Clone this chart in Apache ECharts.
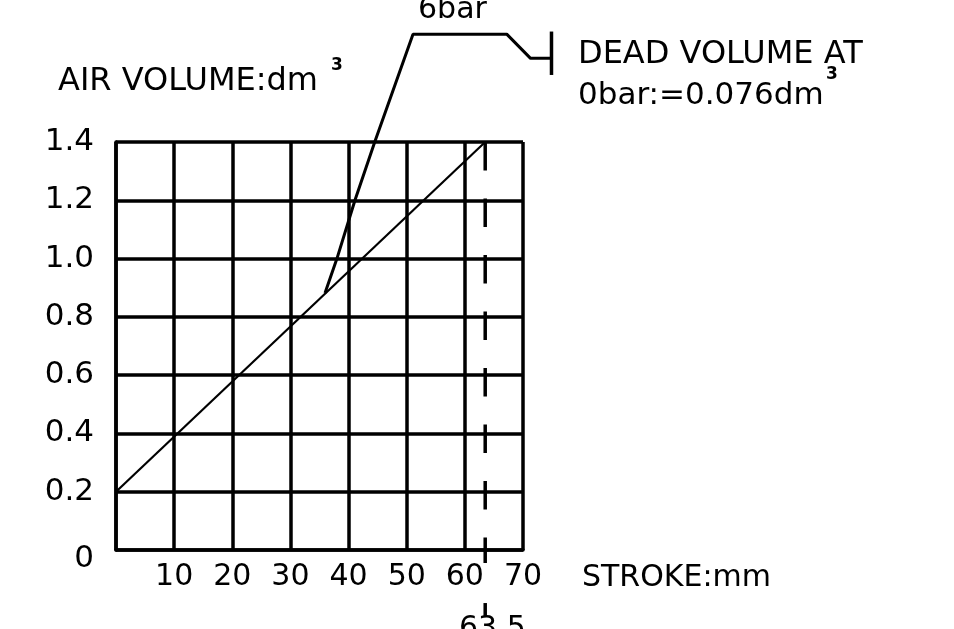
<!DOCTYPE html>
<html>
<head>
<meta charset="utf-8">
<title>Air volume vs stroke</title>
<script src="https://cdn.jsdelivr.net/npm/echarts@6/dist/echarts.min.js"></script>
<style>
    html, body { margin: 0; padding: 0; background: #fff; }
    #main { width: 954px; height: 629px; }
</style>
</head>
<body>
<div id="main"></div>
<script>
// stroke (mm) / air volume (dm3)
var strokeRange = [0, 70];
var volumeRange = [0, 1.4];

// volume line at 0 bar, from the dead volume to full stroke
var volumeLine = [[0, 0.2], [63.5, 1.4]];
// 6 bar leader line going up to the note
var leader6bar = [[35.95, 0.882], [38.0, 1.0], [41.1, 1.2], [44.5, 1.4], [51.08, 1.77], [67.2, 1.77], [71.3, 1.687], [74.9, 1.687]];
var leaderTick = [[74.9, 1.779], [74.9, 1.63]];
// full stroke mark 63.5 mm
var fullStroke = 63.5;
var strokeMark = [[fullStroke, 1.4], [fullStroke, -0.045]];
var strokeMarkLow = [[fullStroke, -0.182], [fullStroke, -0.23]];

var FONT = '"DejaVu Sans"';
var PX_PER_MM = 407 / 70;

var myChart = echarts.init(document.getElementById('main'));

// annotations live on a second, hidden grid with the same scale but a wider x range
function lineSeries(data, width, dash, onNotes) {
    return {
        type: 'line',
        data: data,
        xAxisIndex: onNotes ? 1 : 0,
        yAxisIndex: onNotes ? 1 : 0,
        symbol: 'none',
        clip: false,
        silent: true,
        lineStyle: {color: '#000', width: width, type: dash || 'solid', cap: 'butt'},
        z: 3
    };
}

var option = {
    animation: false,
    backgroundColor: '#fff',
    grid: [
        {left: 116, top: 142, width: 407, height: 408},
        {left: 116, top: 142, width: 90 * PX_PER_MM, height: 408}
    ],
    xAxis: [{
        type: 'value',
        min: strokeRange[0],
        max: strokeRange[1],
        interval: 10,
        name: 'STROKE:mm',
        nameLocation: 'end',
        nameGap: 59,
        nameTextStyle: {
            color: '#000', fontFamily: FONT, fontSize: 30,
            align: 'left', verticalAlign: 'top', padding: [13, 0, 0, 0]
        },
        axisLine: {show: true, lineStyle: {color: '#000', width: 3.5}},
        axisTick: {show: false},
        axisLabel: {
            color: '#000', fontFamily: FONT, fontSize: 30, margin: 12,
            formatter: function (v) { return v === 0 ? '' : String(v); }
        },
        splitLine: {show: true, lineStyle: {color: '#000', width: 3.5}}
    }, {
        type: 'value', gridIndex: 1, min: 0, max: 90, show: false
    }],
    yAxis: [{
        type: 'value',
        min: volumeRange[0],
        max: volumeRange[1],
        interval: 0.2,
        axisLine: {show: true, lineStyle: {color: '#000', width: 3.5}},
        axisTick: {show: false},
        axisLabel: {
            color: '#000', fontFamily: FONT, fontSize: 31, margin: 22,
            formatter: function (v) { return v === 0 ? '{z|0}' : v.toFixed(1); },
            rich: {z: {fontFamily: FONT, fontSize: 31, color: '#000', padding: [18, 0, 0, 0]}}
        },
        splitLine: {show: true, lineStyle: {color: '#000', width: 3.5}}
    }, {
        type: 'value', gridIndex: 1, min: volumeRange[0], max: volumeRange[1], show: false
    }],
    graphic: [
        {type: 'text', x: 58, y: 82, style: {text: 'AIR VOLUME:dm', font: '32px ' + FONT, fill: '#000', verticalAlign: 'middle'}},
        {type: 'text', x: 331, y: 66, style: {text: '3', font: 'bold 17px ' + FONT, fill: '#000', verticalAlign: 'middle'}},
        {type: 'text', x: 578, y: 55, style: {text: 'DEAD VOLUME AT', font: '32px ' + FONT, fill: '#000', verticalAlign: 'middle'}},
        {type: 'text', x: 578, y: 96, style: {text: '0bar:=0.076dm', font: '31px ' + FONT, fill: '#000', verticalAlign: 'middle'}},
        {type: 'text', x: 826, y: 75, style: {text: '3', font: 'bold 17px ' + FONT, fill: '#000', verticalAlign: 'middle'}},
        {type: 'text', x: 418, y: 10, style: {text: '6bar', font: '30px ' + FONT, fill: '#000', verticalAlign: 'middle'}},
        {type: 'text', x: 459, y: 629, style: {text: '63.5', font: '30px ' + FONT, fill: '#000', verticalAlign: 'middle'}}
    ],
    series: [
        lineSeries(volumeLine, 2.2),
        lineSeries(leader6bar, 3, null, true),
        lineSeries(leaderTick, 3.5, null, true),
        lineSeries(strokeMark, 3.5, [28.5, 28]),
        lineSeries(strokeMarkLow, 3.5)
    ]
};

myChart.setOption(option);
</script>
</body>
</html>
